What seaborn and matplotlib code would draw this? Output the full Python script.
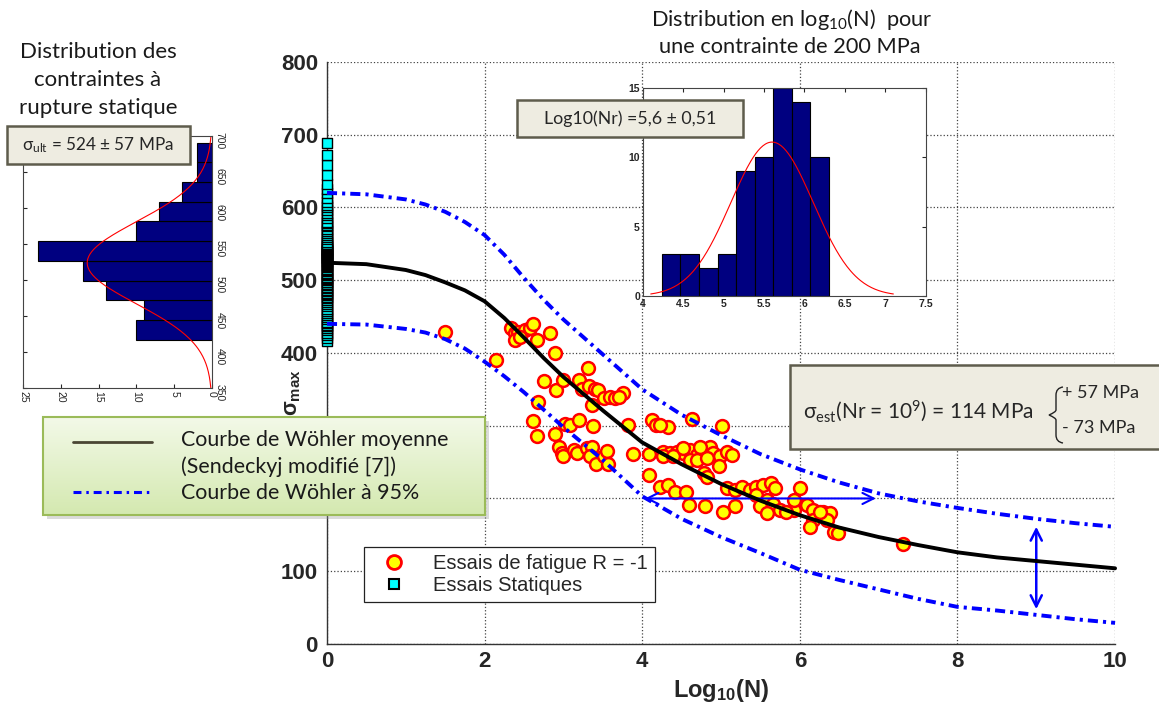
import numpy as np
import matplotlib
matplotlib.use("Agg")
import matplotlib.pyplot as plt
from matplotlib.patches import Rectangle, PathPatch
from matplotlib.path import Path
from matplotlib.lines import Line2D
import seaborn as sns

sns.set_style("white")
plt.rcParams['font.family'] = ['Lato', 'DejaVu Sans']
plt.rcParams['mathtext.fontset'] = 'custom'
plt.rcParams['mathtext.rm'] = 'Lato'
plt.rcParams['mathtext.it'] = 'Lato:italic'
plt.rcParams['mathtext.bf'] = 'Liberation Sans:bold'
plt.rcParams['mathtext.sf'] = 'Liberation Sans'

# ---- Wöhler curves ----
log_n_curve = [0, 0.5, 1.0, 1.25, 1.5, 1.75, 2.0, 2.25, 2.5, 2.75, 3.0, 3.5, 4.0, 4.5, 5.0,
               5.5, 6.0, 6.5, 7.0, 7.5, 8.0, 8.5, 9.0, 9.5, 10.0]
sigma_mean = [524, 522, 514, 507, 497, 486, 471, 448, 421, 393, 367, 321, 277, 247, 220,
              197, 177, 160, 147, 136, 126, 119, 114, 109, 104]
sigma_upper = [620, 618, 611, 604, 594, 580, 562, 535, 503, 473, 446, 398, 350, 315, 287,
               261, 240, 222, 207, 196, 187, 179, 172, 166, 161]
sigma_lower = [440, 439, 433, 428, 419, 406, 388, 368, 346, 322, 298, 253, 203, 172, 147,
               125, 102, 88, 75, 62, 51, 46, 40, 34, 29]

# ---- fatigue tests R = -1 ----
fatigue_log_n = [
    1.50, 2.14,
    2.34, 2.39, 2.43, 2.51, 2.58, 2.62, 2.39, 2.66, 2.83, 2.45,
    2.89, 3.31,
    2.75, 2.91, 3.00, 3.20, 3.23, 3.32, 3.40, 3.44, 3.36,
    3.51, 3.59, 3.65, 3.76, 3.70,
    2.68, 2.62, 2.66, 2.89,
    3.02, 3.08, 3.20, 3.37,
    2.94, 2.98, 3.00, 3.13, 3.17, 3.30, 3.36, 3.34, 3.42, 3.51, 3.55, 3.57,
    3.82, 3.88, 4.08, 4.08,
    4.12, 4.18, 4.33, 4.23,
    4.63, 5.01,
    4.27, 4.35, 4.44, 4.52, 4.61, 4.69, 4.78, 4.86, 4.90, 4.99, 5.07, 5.14,
    4.61, 4.69, 4.82, 4.97, 4.78, 4.82, 4.27, 4.39, 4.73, 4.52,
    4.23, 4.33, 4.42, 4.56, 4.59, 4.80, 5.03, 5.18,
    5.07, 5.18, 5.26, 5.37, 5.45, 5.53, 5.64, 5.68, 5.45, 5.58, 5.66, 5.49, 5.58, 5.75,
    6.00, 5.96, 6.09, 6.17, 6.30, 6.38, 6.17, 6.13, 6.34, 6.43, 6.49, 5.92, 5.83, 5.92, 6.26,
    7.31,
]
fatigue_sigma = [
    429, 390,
    434, 427, 429, 431, 434, 440, 418, 418, 427, 422,
    400, 379,
    361, 349, 363, 363, 351, 355, 351, 349, 328,
    338, 340, 338, 345, 340,
    332, 306, 286, 289,
    303, 301, 308, 300,
    271, 262, 258, 267, 262, 269, 271, 258, 248, 258, 265, 248,
    301, 261, 261, 232,
    308, 301, 298, 301,
    309, 300,
    264, 262, 264, 262, 267, 260, 264, 271, 262, 258, 264, 260,
    253, 253, 255, 244, 235, 230, 258, 258, 271, 269,
    216, 219, 209, 209, 191, 189, 182, 190,
    214, 212, 216, 212, 216, 219, 221, 214, 205, 198, 193, 189, 180, 184,
    214, 193, 191, 184, 182, 180, 170, 161, 170, 154, 152, 184, 182, 198, 182,
    138,
]

# ---- static tests (ultimate stress, MPa) ----
static_sigma = [
    417, 421, 425, 428, 431, 434, 437, 439, 441, 443,
    446, 449, 452, 455, 458, 461, 464, 467, 470,
    473, 475, 477, 479, 481, 483, 485, 487, 489, 491, 493, 495, 497, 498,
    500, 502, 503, 505, 507, 509, 510, 512, 514, 516, 518, 519, 521, 522, 524, 525, 526,
    528, 529, 530, 531, 532, 533, 534, 535, 536, 537, 538, 539, 540, 541, 542, 543,
    544, 545, 547, 549, 550, 552, 553,
    556, 559, 562, 565, 568, 571, 574, 576, 578, 580,
    585, 589, 593, 597, 601, 604, 607,
    613, 620, 626, 632,
    645, 658,
    672, 689,
]
static_bin_edges = [417, 444.4, 471.8, 499.2, 526.6, 554, 581.4, 608.8, 636.2, 663.6, 691]
sigma_ult_mean, sigma_ult_sd, sigma_ult_peak = 524, 57, 16.5

# ---- log10(N) distribution at 200 MPa ----
inset_bin_edges = [4.244, 4.467, 4.698, 4.930, 5.153, 5.384, 5.612, 5.847, 6.074, 6.302]
inset_counts = [3, 3, 2, 3, 9, 10, 15, 14, 10]
log_nr_mean, log_nr_sd, log_nr_peak = 5.6, 0.51, 11.1

# arrows
arrow_stress, arrow_n_from, arrow_n_to = 200, 4.0, 7.0
arrow_n_vert, arrow_s_low, arrow_s_high = 9.0, 44, 165

# y tick labels hidden behind the green legend box in the original
y_ticks = list(range(0, 801, 100))
y_tick_labels = ['0', '100', '', '', '400', '500', '600', '700', '800']

blue_dashdot = (0, (2.6, 1.3, 0.8, 1.3))
box_fc, box_ec = '#eeece1', '#5e5c4c'


def main():
    fig = plt.figure(figsize=(11.59, 7.09), dpi=100)

    # main S-N plot
    ax = fig.add_axes([0.2821, 0.0917, 0.680, 0.821])
    sns.scatterplot(x=fatigue_log_n, y=fatigue_sigma, ax=ax, s=85, color='yellow',
                    edgecolor='red', linewidth=1.8, zorder=3, clip_on=False)
    sns.scatterplot(x=np.zeros(len(static_sigma)), y=static_sigma, ax=ax, marker='s', s=55,
                    color='cyan', edgecolor='black', linewidth=1.0, zorder=3, clip_on=False)
    sns.lineplot(x=log_n_curve, y=sigma_upper, ax=ax, color='blue', lw=2.8,
                 linestyle=blue_dashdot, zorder=5, clip_on=False)
    sns.lineplot(x=log_n_curve, y=sigma_lower, ax=ax, color='blue', lw=2.8,
                 linestyle=blue_dashdot, zorder=5, clip_on=False)
    sns.lineplot(x=log_n_curve, y=sigma_mean, ax=ax, color='black', lw=2.8, zorder=5,
                 clip_on=False)

    ax.annotate('', xy=(arrow_n_from, arrow_stress), xytext=(arrow_n_to, arrow_stress),
                arrowprops=dict(arrowstyle='<->', color='blue', lw=1.5, mutation_scale=20))
    ax.annotate('', xy=(arrow_n_vert, arrow_s_low), xytext=(arrow_n_vert, arrow_s_high),
                arrowprops=dict(arrowstyle='<->', color='blue', lw=1.8, mutation_scale=20))

    ax.set_xlim(0, 10)
    ax.set_ylim(0, 800)
    ax.set_xticks(range(0, 11, 2))
    ax.set_yticks(y_ticks)
    ax.set_yticklabels(y_tick_labels)
    ax.grid(True, linestyle=':', color='#444444', lw=0.9)
    for side in ['top', 'right']:
        ax.spines[side].set_visible(False)
    for side in ['left', 'bottom']:
        ax.spines[side].set_color('#333333')
        ax.spines[side].set_linewidth(1.0)
    ax.tick_params(length=0, labelsize=16)
    ax.tick_params(axis='y', pad=6.5)
    ax.tick_params(axis='x', pad=5)
    for lbl in ax.get_xticklabels() + ax.get_yticklabels():
        lbl.set_family('Liberation Sans')
        lbl.set_weight('bold')
    ax.set_xlabel(r'$\mathbf{Log}_{\mathbf{10}}\mathbf{(N)}$', fontsize=17, labelpad=4)
    ax.set_ylabel(r'$\mathbf{\sigma}_{\mathbf{max}}$', fontsize=15.5)
    ax.yaxis.set_label_coords(-0.03, 0.432)

    handles = [
        Line2D([], [], marker='o', ls='none', mfc='yellow', mec='red', mew=2, ms=10),
        Line2D([], [], marker='s', ls='none', mfc='cyan', mec='black', mew=1.5, ms=7.5),
    ]
    leg = ax.legend(handles, ['Essais de fatigue R = -1', 'Essais Statiques'],
                    loc='lower left', bbox_to_anchor=(0.047, 0.072), borderaxespad=0,
                    fancybox=False, framealpha=1, edgecolor='#222222', borderpad=0.35,
                    handlelength=2.3, handletextpad=0.8, labelspacing=0.15,
                    prop={'family': 'Liberation Sans', 'size': 14.5})
    leg.get_frame().set_linewidth(0.9)
    leg.set_zorder(6)

    # static ultimate stress histogram (rotated)
    ax_l = fig.add_axes([0.0198, 0.4527, 0.1631, 0.3554])
    sns.histplot(y=static_sigma, bins=static_bin_edges, ax=ax_l, color='#000080',
                 edgecolor='black', alpha=1, lw=0.8)
    s_grid = np.linspace(350, 700, 200)
    ax_l.plot(sigma_ult_peak * np.exp(-0.5 * ((s_grid - sigma_ult_mean) / sigma_ult_sd) ** 2),
              s_grid, color='red', lw=0.8)
    ax_l.set_xlim(25, 0)
    ax_l.set_ylim(350, 700)
    ax_l.set_xticks(range(0, 26, 5))
    ax_l.set_yticks(range(350, 701, 50))
    ax_l.set_xlabel('')
    ax_l.set_ylabel('')
    ax_l.tick_params(axis='y', left=True, right=False, labelleft=False, labelright=True,
                     direction='in', length=3, labelsize=7.5, pad=2, labelrotation=270)
    ax_l.tick_params(axis='x', bottom=True, direction='in', length=3, labelsize=7.5, pad=2,
                     labelrotation=270)
    for lbl in ax_l.get_xticklabels() + ax_l.get_yticklabels():
        lbl.set_family('Liberation Sans')
    for sp in ax_l.spines.values():
        sp.set_color('#444444')
        sp.set_linewidth(0.8)

    # log10(N) histogram at 200 MPa
    ax_i = fig.add_axes([0.5545, 0.5825, 0.2442, 0.2934])
    ax_i.set_facecolor('white')
    centers = (np.array(inset_bin_edges[:-1]) + np.array(inset_bin_edges[1:])) / 2
    sns.histplot(x=centers, weights=inset_counts, bins=inset_bin_edges, ax=ax_i,
                 color='#000080', edgecolor='black', alpha=1, lw=0.8)
    n_grid = np.linspace(4.1, 7.1, 200)
    ax_i.plot(n_grid, log_nr_peak * np.exp(-0.5 * ((n_grid - log_nr_mean) / log_nr_sd) ** 2),
              color='red', lw=0.8)
    ax_i.set_xlim(4, 7.5)
    ax_i.set_ylim(0, 15)
    ax_i.set_xticks(np.arange(4, 7.51, 0.5))
    ax_i.set_xticklabels(['4', '4.5', '5', '5.5', '6', '6.5', '7', '7.5'])
    ax_i.set_yticks([0, 5, 10, 15])
    ax_i.set_xlabel('')
    ax_i.set_ylabel('')
    ax_i.tick_params(direction='in', length=3, labelsize=7.5, pad=2, top=True, right=True)
    for lbl in ax_i.get_xticklabels() + ax_i.get_yticklabels():
        lbl.set_family('Liberation Sans')
        lbl.set_weight('bold')
    for sp in ax_i.spines.values():
        sp.set_color('#444444')
        sp.set_linewidth(0.8)

    # overlay in pixel units for the notes and boxes
    ov = fig.add_axes([0, 0, 1, 1], zorder=10)
    ov.set_facecolor('none')
    ov.axis('off')

    # green legend box with gradient
    ov.add_patch(Rectangle((47, 421), 442, 98, fc='#999999', ec='none', alpha=0.35))
    grad = np.linspace(0, 1, 100).reshape(-1, 1)
    ov.imshow(grad, extent=[43, 485, 515, 417], aspect='auto',
              cmap=matplotlib.colors.LinearSegmentedColormap.from_list('g', ['#f3f9e8', '#d4e9b0']),
              zorder=2)
    ov.add_patch(Rectangle((43, 417), 442, 98, fc='none', ec='#9bbb59', lw=1.5, zorder=3))
    ov.plot([73, 152], [442, 442], color='#4a4634', lw=2, zorder=4)
    ov.plot([73, 152], [492, 492], color='blue', lw=2.2, linestyle=(0, (2.6, 1.6, 0.8, 1.6)), zorder=4)
    legend_lines = [('Courbe de Wöhler moyenne', 440), ('(Sendeckyj modifié [7])', 467),
                    ('Courbe de Wöhler à 95%', 493)]
    for txt, yy in legend_lines:
        ov.text(181, yy, txt, fontsize=15.4, va='center', ha='left', color='#1a1a1a', zorder=4)

    # note boxes
    ov.add_patch(Rectangle((7, 126), 183, 38, fc=box_fc, ec=box_ec, lw=1.8, zorder=2))
    ov.text(98, 145, r'$\mathrm{\sigma}_{\mathrm{ult}}$ = 524 ± 57 MPa', fontsize=12.3,
            ha='center', va='center', zorder=3)
    ov.add_patch(Rectangle((517, 100), 226, 37, fc=box_fc, ec=box_ec, lw=1.8, zorder=2))
    ov.text(630, 119, 'Log10(Nr) =5,6 ± 0,51', fontsize=12.8, ha='center', va='center', zorder=3)
    ov.add_patch(Rectangle((790, 365), 372, 84, fc=box_fc, ec=box_ec, lw=1.8, zorder=2))
    ov.text(803, 411, r'$\mathrm{\sigma}_{\mathrm{est}}$(Nr = 10$^{9}$) = 114 MPa', fontsize=15,
            ha='left', va='center', zorder=3)
    brace = Path([(1063, 387), (1056, 388), (1056, 395), (1056, 410), (1056, 412),
                  (1049, 415), (1056, 418), (1056, 420), (1056, 435), (1056, 442), (1063, 443)],
                 [Path.MOVETO, Path.CURVE3, Path.CURVE3, Path.LINETO, Path.CURVE3, Path.CURVE3,
                  Path.CURVE3, Path.CURVE3, Path.LINETO, Path.CURVE3, Path.CURVE3])
    ov.add_patch(PathPatch(brace, fc='none', ec='#222222', lw=1.0, zorder=3))
    ov.text(1062, 393, '+ 57 MPa', fontsize=13, ha='left', va='center', zorder=3)
    ov.text(1062, 428, '- 73 MPa', fontsize=13, ha='left', va='center', zorder=3)

    # titles
    for txt, yy in [('Distribution des', 52), ('contraintes à', 80), ('rupture statique', 108)]:
        ov.text(98, yy, txt, fontsize=16, ha='center', va='center', color='#1a1a1a')
    ov.text(792, 20, r'Distribution en log$_{10}$(N)  pour', fontsize=15.7, ha='center',
            va='center', color='#1a1a1a')
    ov.text(790, 47, 'une contrainte de 200 MPa', fontsize=15.7, ha='center', va='center',
            color='#1a1a1a')

    ov.set_xlim(0, 1159)
    ov.set_ylim(709, 0)

    fig.savefig('out.png', dpi=100)


if __name__ == "__main__":
    main()
